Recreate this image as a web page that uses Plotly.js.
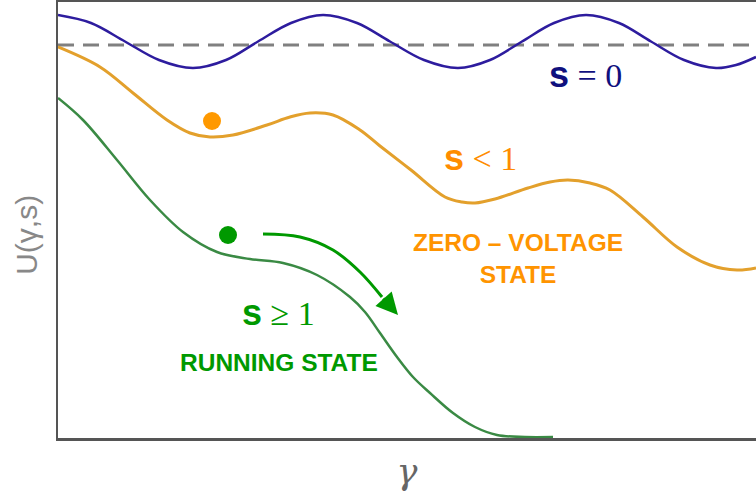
<!DOCTYPE html>
<html>
<head>
<meta charset="utf-8">
<script src="https://cdn.plot.ly/plotly-3.0.1.min.js"></script>
<style>html,body{margin:0;padding:0;background:#fff;}#chart{width:756px;height:493px;}</style>
</head>
<body>
<div id="chart"></div>
<script>
// s = 0 potential (blue)
var gammaS0 = [0,33,67,101,135,168,200,233,265,299,332,366,400,432,464,496,528,561,593,626,658,678,698];
var uS0     = [423,415,396.5,378,370,378,396.5,415,423,415,396.5,378,370,378,396.5,415,423,415,396.5,378,370,373,381];
// dashed reference level
var gammaRef = [0,698];
var uRef     = [393,393];
// s < 1 potential (orange)
var gammaSlt1 = [0,42,75,109,132,152,175,209,232,252,275,302,322,353,387,404,417,437,470,492,510,532,552,585,619,652,679,698];
var uSlt1     = [391,371,345,318,305,301,303,313,321,325,323,308,292,268,241,236,235,239,250,256,258,255,248,221,191,173,168,170];
// s >= 1 potential (green)
var gammaSge1 = [0,25,59,92,125,159,192,225,259,292,307,322,339,355,372,395,417,439,467,495];
var uSge1     = [340,318,278,238,206,186,179,175,163,141,126,105,81,61,45,25,11,3,1,1];
// particles
var gammaDotZero = [154], uDotZero = [317];
var gammaDotRun  = [170], uDotRun  = [203];
// running arrow (last point = arrow tip)
var gammaArrow = [205,242,275,302,324,340];
var uArrow     = [204,201,188,166,141,123];

var nA = gammaArrow.length;
var traces = [
  {x: gammaRef, y: uRef, mode: 'lines', line: {color: '#808080', width: 3, dash: '16px,9px'}},
  {x: gammaS0, y: uS0, mode: 'lines', line: {color: '#2d1c9e', width: 2.5, shape: 'spline', smoothing: 1}},
  {x: gammaSlt1, y: uSlt1, mode: 'lines', line: {color: '#e3a02c', width: 3, shape: 'spline', smoothing: 1}},
  {x: gammaSge1, y: uSge1, mode: 'lines', line: {color: '#3a8a44', width: 2.5, shape: 'spline', smoothing: 1}},
  {x: gammaDotZero, y: uDotZero, mode: 'markers', marker: {color: '#ff9900', size: 18}},
  {x: gammaDotRun, y: uDotRun, mode: 'markers', marker: {color: '#009900', size: 18}},
  {x: gammaArrow.slice(0, nA - 1), y: uArrow.slice(0, nA - 1), mode: 'lines', line: {color: '#009900', width: 3, shape: 'spline'}}
];

var serif = "Liberation Serif, Times New Roman, serif";
var sans = "Liberation Sans, Arial, sans-serif";
function lbl(rel, num){
  return "<span style=\"font-family:Liberation Sans,Arial,sans-serif;font-weight:bold;font-size:36px\">s</span> " + rel + " " + num;
}

var layout = {
  width: 756, height: 493,
  margin: {l: 58, r: 0, t: 2, b: 55},
  paper_bgcolor: '#fff', plot_bgcolor: '#fff',
  showlegend: false,
  xaxis: {range: [0, 698], showgrid: false, zeroline: false, showticklabels: false, ticks: '',
          showline: true, mirror: true, linecolor: '#555', linewidth: 2.5,
          title: {text: 'γ', font: {family: 'DejaVu Serif, serif', size: 35, color: '#666', style: 'italic'}, standoff: 20}},
  yaxis: {range: [0, 436], showgrid: false, zeroline: false, showticklabels: false, ticks: '',
          showline: true, linecolor: '#555', linewidth: 2.5},
  annotations: [
    {x: gammaArrow[nA - 1], y: uArrow[nA - 1], xref: 'x', yref: 'y', showarrow: true, text: '',
     ax: -16, ay: -18, arrowhead: 2, arrowsize: 1.45, arrowwidth: 3, arrowcolor: '#009900'},
    {x: -0.045, y: 0.465, xref: 'paper', yref: 'paper', xanchor: 'center', yanchor: 'middle', showarrow: false, textangle: -90,
     text: 'U(γ,s)', font: {family: sans, size: 30, color: '#888'}},
    {x: 527, y: 364, xref: 'x', yref: 'y', showarrow: false, text: lbl('=', '0'), font: {family: serif, size: 34, color: '#10107e'}},
    {x: 422, y: 281, xref: 'x', yref: 'y', showarrow: false, text: lbl('&lt;', '1'), font: {family: serif, size: 34, color: '#ff8c00'}},
    {x: 220, y: 126, xref: 'x', yref: 'y', showarrow: false, text: lbl('≥', '1'), font: {family: serif, size: 34, color: '#009900'}},
    {x: 460, y: 180, xref: 'x', yref: 'y', showarrow: false, text: '<b>ZERO – VOLTAGE</b><br><b>STATE</b>', font: {family: sans, size: 24.5, color: '#ff9400'}},
    {x: 221, y: 76, xref: 'x', yref: 'y', showarrow: false, text: '<b>RUNNING STATE</b>', font: {family: sans, size: 24.5, color: '#009900'}}
  ]
};

Plotly.newPlot('chart', traces, layout, {staticPlot: true, displayModeBar: false});
</script>
</body>
</html>
